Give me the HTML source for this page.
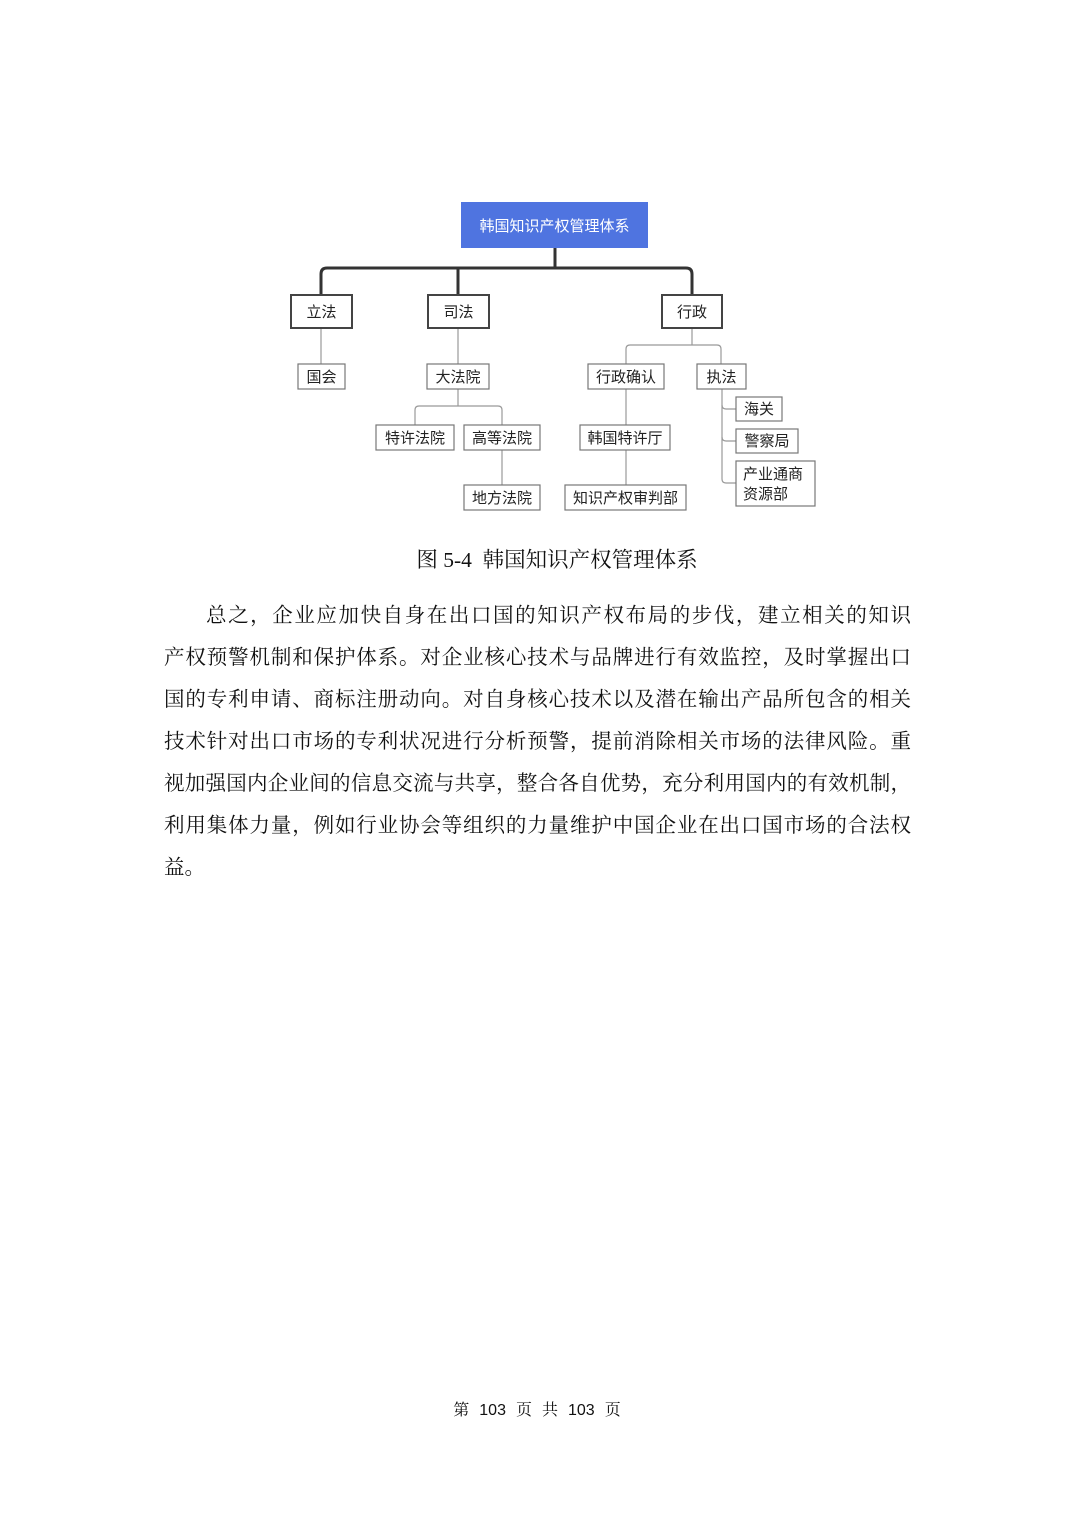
<!DOCTYPE html>
<html><head><meta charset="utf-8">
<style>
html,body{margin:0;padding:0;background:#fff;}
body{width:1074px;height:1520px;position:relative;overflow:hidden;}
.s{font-family:"Liberation Sans","Microsoft YaHei","Noto Sans CJK SC",sans-serif;}
.serif{font-family:"Liberation Serif","Noto Serif CJK SC",serif;color:#111;}
.ln{position:absolute;left:164px;width:747px;font-size:20.5px;line-height:26px;text-align:justify;text-align-last:justify;white-space:nowrap;}
</style></head><body>
<svg width="1074" height="530" style="position:absolute;left:0;top:0" class="s">
<g fill="none" stroke="#333" stroke-width="3">
<path d="M555 248 V268"/>
<path d="M321 295 V274 Q321 268 327 268 H686 Q692 268 692 274 V295"/>
<path d="M458 295 V268"/>
</g>
<g fill="none" stroke="#999" stroke-width="1.2">
<path d="M321 328 V364"/>
<path d="M458 328 V364"/>
<path d="M458 389 V406"/>
<path d="M415 425 V410 Q415 406 419 406 H498 Q502 406 502 410 V425"/>
<path d="M502 450 V485"/>
<path d="M692 328 V345"/>
<path d="M626 364 V349 Q626 345 630 345 H717 Q721 345 721 349 V364"/>
<path d="M626 389 V425"/>
<path d="M626 450 V485"/>
<path d="M722 389 V405 Q722 409 726 409 H736"/>
<path d="M722 405 V437 Q722 441 726 441 H736"/>
<path d="M722 437 V479 Q722 483 726 483 H736"/>
</g>
<rect x="461" y="202" width="187" height="46" fill="#4f74e0"/>
<text x="554.5" y="231" fill="#fff" font-size="15" text-anchor="middle">韩国知识产权管理体系</text>
<g fill="#fff" stroke="#444" stroke-width="2">
<rect x="291" y="295" width="61" height="33"/>
<rect x="428" y="295" width="61" height="33"/>
<rect x="662" y="295" width="60" height="33"/>
</g>
<g fill="#222" font-size="15" text-anchor="middle">
<text x="321.5" y="317">立法</text>
<text x="458.5" y="317">司法</text>
<text x="692" y="317">行政</text>
</g>
<g fill="#fff" stroke="#777" stroke-width="1.2">
<rect x="298" y="364" width="47" height="25"/>
<rect x="427" y="364" width="62" height="25"/>
<rect x="588" y="364" width="76" height="25"/>
<rect x="697" y="364" width="49" height="25"/>
<rect x="376" y="425" width="78" height="25"/>
<rect x="464" y="425" width="76" height="25"/>
<rect x="580" y="425" width="90" height="25"/>
<rect x="464" y="485" width="76" height="25"/>
<rect x="565" y="485" width="121" height="25"/>
<rect x="736" y="397" width="46" height="24"/>
<rect x="736" y="429" width="62" height="24"/>
<rect x="736" y="461" width="79" height="45"/>
</g>
<g fill="#222" font-size="15" text-anchor="middle">
<text x="321.5" y="382">国会</text>
<text x="458" y="382">大法院</text>
<text x="626" y="382">行政确认</text>
<text x="721.5" y="382">执法</text>
<text x="415" y="443">特许法院</text>
<text x="502" y="443">高等法院</text>
<text x="625" y="443">韩国特许厅</text>
<text x="502" y="503">地方法院</text>
<text x="625.5" y="503">知识产权审判部</text>
<text x="759" y="414">海关</text>
<text x="767" y="446">警察局</text>
</g>
<g fill="#222" font-size="15">
<text x="743" y="479">产业通商</text>
<text x="743" y="499">资源部</text>
</g>
</svg>
<div class="serif" style="position:absolute;left:20px;width:1074px;top:547px;text-align:center;font-size:21.5px;line-height:26px;">图 5-4&nbsp; 韩国知识产权管理体系</div>
<div class="serif ln" style="top:603px;left:206px;width:705px;">总之，企业应加快自身在出口国的知识产权布局的步伐，建立相关的知识</div>
<div class="serif ln" style="top:645px;">产权预警机制和保护体系。对企业核心技术与品牌进行有效监控，及时掌握出口</div>
<div class="serif ln" style="top:687px;">国的专利申请、商标注册动向。对自身核心技术以及潜在输出产品所包含的相关</div>
<div class="serif ln" style="top:729px;">技术针对出口市场的专利状况进行分析预警，提前消除相关市场的法律风险。重</div>
<div class="serif ln" style="top:771px;">视加强国内企业间的信息交流与共享，整合各自优势，充分利用国内的有效机制，</div>
<div class="serif ln" style="top:813px;">利用集体力量，例如行业协会等组织的力量维护中国企业在出口国市场的合法权</div>
<div class="serif" style="position:absolute;left:164px;top:855px;font-size:20.5px;line-height:26px;">益。</div>
<div class="serif" style="position:absolute;left:0;width:1074px;top:1401px;text-align:center;font-size:16px;line-height:20px;word-spacing:6px;">第 <span class="s">103</span> 页 共 <span class="s">103</span> 页</div>
</body></html>
